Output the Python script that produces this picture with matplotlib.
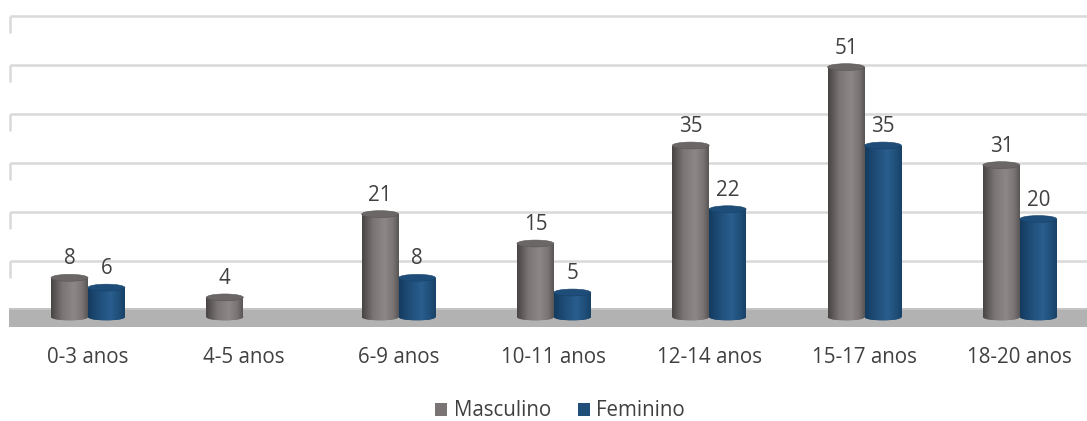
import numpy as np
import matplotlib
matplotlib.use("Agg")
import matplotlib.pyplot as plt
from matplotlib.patches import Ellipse, Rectangle, Patch
from matplotlib.colors import to_rgb

plt.rcParams['font.family'] = ['Open Sans', 'DejaVu Sans']

categories = ["0-3 anos", "4-5 anos", "6-9 anos", "10-11 anos", "12-14 anos", "15-17 anos", "18-20 anos"]
masculino = [8, 4, 21, 15, 35, 51, 31]
feminino = [6, None, 8, 5, 22, 35, 20]
series_names = ["Masculino", "Feminino"]
grid_values = [10, 20, 30, 40, 50, 60]

W, H = 1087, 421
fig = plt.figure(figsize=(W / 100, H / 100), dpi=100)
# axes covering pixel x 9..1087, pixel y 0..330
ax = fig.add_axes([9 / W, (H - 330) / H, (W - 9) / W, 330 / H])

px_per_unit = 4.9
base_px = 317.0
ylo = -(330 - base_px) / px_per_unit
yhi = base_px / px_per_unit
cat_px = 155.3
xlo = (9 - 88) / cat_px
xhi = (W - 88) / cat_px

wall_offset = 1.43  # perspective offset of the back wall
grid_col = "#d9d9d9"
for g in grid_values:
    yv = g + wall_offset
    ax.plot([xlo + 0.006, xhi], [yv, yv], color=grid_col, lw=1.8, zorder=1, solid_capstyle='butt')
    ax.plot([xlo + 0.006, xlo + 0.006], [yv, yv - 3.5], color=grid_col, lw=1.8, zorder=1, solid_capstyle='butt')

# floor
ax.add_patch(Rectangle((xlo, -2.04), xhi - xlo, 1.84 + 2.04, facecolor="#b2b2b2", edgecolor="none", zorder=2))
ax.add_patch(Rectangle((xlo, 1.45), xhi - xlo, 0.39, facecolor="#c4c4c4", edgecolor="none", zorder=2))

bw = 0.238
offsets = [-0.119, 0.119]
base_colors = ["#7a7574", "#1f4e79"]
left_dark = ["#484444", "#143b60"]
mid = ["#7a7574", "#1f4e79"]
light = ["#8d8887", "#2a5e8e"]
right_dark = ["#5a5656", "#184268"]
top_colors = ["#6c6767", "#1e4d7a"]


def cyl_gradient(i, n=64):
    stops = [(0.0, left_dark[i]), (0.3, mid[i]), (0.62, light[i]), (0.85, mid[i]), (1.0, right_dark[i])]
    t = np.linspace(0, 1, n)
    out = np.zeros((1, n, 3))
    for k, tt in enumerate(t):
        for (a, ca), (b, cb) in zip(stops[:-1], stops[1:]):
            if a <= tt <= b:
                f = (tt - a) / (b - a)
                out[0, k] = np.array(to_rgb(ca)) * (1 - f) + np.array(to_rgb(cb)) * f
                break
    return out


ell_h = 1.4
for si, vals in enumerate([masculino, feminino]):
    grad = cyl_gradient(si)
    for ci, v in enumerate(vals):
        if v is None:
            continue
        xc = ci + offsets[si]
        x0 = xc - bw / 2
        z = 5 + ci * 0.01 + si * 0.001
        be = Ellipse((xc, 0), bw, ell_h, facecolor=base_colors[si], edgecolor="none", zorder=z)
        ax.add_patch(be)
        im_b = ax.imshow(grad, extent=[x0, x0 + bw, -ell_h / 2, 0], aspect='auto', zorder=z, interpolation='bilinear')
        im_b.set_clip_path(be)
        rect = Rectangle((x0, 0), bw, v, facecolor=base_colors[si], edgecolor="none", zorder=z)
        ax.add_patch(rect)
        im = ax.imshow(grad, extent=[x0, x0 + bw, 0, v], aspect='auto', zorder=z, interpolation='bilinear')
        im.set_clip_path(rect)
        te = Ellipse((xc, v), bw, ell_h, facecolor=top_colors[si], edgecolor=right_dark[si], lw=0.4, zorder=z + 0.0005)
        ax.add_patch(te)
        ax.text(xc, v + 1.7, str(v), ha='center', va='bottom', fontsize=14.8, color="#404040", zorder=20)

ax.set_xlim(xlo, xhi)
ax.set_ylim(ylo, yhi)
ax.set_xticks(range(len(categories)))
ax.set_xticklabels(categories, fontsize=14.8, color="#404040")
ax.tick_params(axis='x', length=0, pad=12.5)
ax.set_yticks([])
for s in ax.spines.values():
    s.set_visible(False)
ax.patch.set_alpha(0)

handles = [Patch(facecolor=base_colors[0], edgecolor='none'), Patch(facecolor=base_colors[1], edgecolor='none')]
fig.legend(handles, series_names, loc='center', bbox_to_anchor=(560 / W, 1 - 411 / H), ncol=2, frameon=False,
           fontsize=14.8, handlelength=0.6, handleheight=0.6, handletextpad=0.3, columnspacing=1.3,
           labelcolor="#404040")

fig.savefig("out.png", dpi=100)
